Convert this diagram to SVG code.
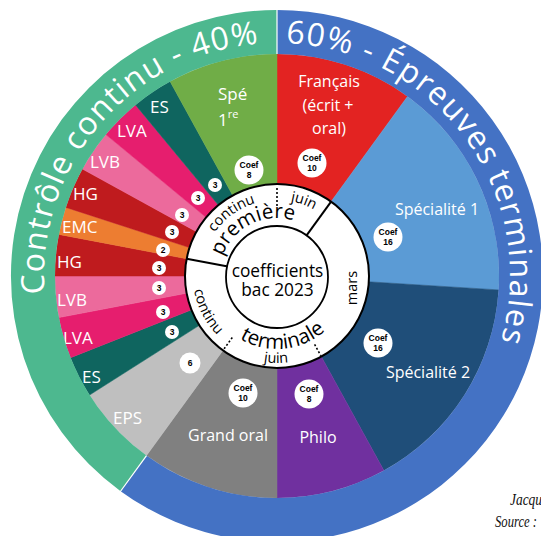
<svg xmlns="http://www.w3.org/2000/svg" width="541" height="536" viewBox="0 0 541 536">
<style>
.lbl{font-family:"Open Sans","Noto Sans",sans-serif;fill:#fff;font-size:17px}
.lbl16{font-family:"Open Sans","Noto Sans",sans-serif;fill:#fff;font-size:16px;text-anchor:middle}
.big{font-family:"Open Sans","Noto Sans",sans-serif;fill:#fff;font-size:32px;letter-spacing:1.2px}
.ring{font-family:"Open Sans","Noto Sans",sans-serif;fill:#000}
.bc{fill:#fff}
.bt{font-family:"Liberation Sans",Arial,sans-serif;font-weight:bold;font-size:8.5px;fill:#000;text-anchor:middle}
.foot{font-family:"Liberation Serif","Times New Roman",serif;font-style:italic;font-size:17px;fill:#111}
.div{stroke:#000;stroke-width:2;fill:none}
.dot{stroke:#000;stroke-width:1.6;stroke-dasharray:2 2;fill:none}
</style>
<defs>
<path id="cwBig" d="M277 509 A233 233 0 1 1 277 43 A233 233 0 1 1 277 509"/>
<path id="cw76" d="M277 352 A76 76 0 1 1 277 200 A76 76 0 1 1 277 352"/>
<path id="cw58" d="M277 334 A58 58 0 1 1 277 218 A58 58 0 1 1 277 334"/>
<path id="ccw84" d="M277 192 A84 84 0 1 0 277 360 A84 84 0 1 0 277 192"/>
<path id="ccw73" d="M277 203 A73 73 0 1 0 277 349 A73 73 0 1 0 277 203"/>
<path id="ccw87" d="M277 189 A87 87 0 1 0 277 363 A87 87 0 1 0 277 189"/>
</defs>

<g id="segments">
<g id="francais"><path d="M277 276 L277 54 A222 222 0 0 1 407.5 96.4 Z" fill="#E32322" stroke="#E32322" stroke-width="0.5"/>
<text class="lbl16" x="329" y="87">Français</text><text class="lbl16" x="328" y="111">(écrit +</text><text class="lbl16" x="329" y="134">oral)</text></g>
<g id="specialite1"><path d="M277 276 L407.5 96.4 A222 222 0 0 1 498.6 289.9 Z" fill="#5B9BD5" stroke="#5B9BD5" stroke-width="0.5"/>
<text class="lbl16" x="437" y="215">Spécialité 1</text></g>
<g id="specialite2"><path d="M277 276 L498.6 289.9 A222 222 0 0 1 383.9 470.5 Z" fill="#1F4E79" stroke="#1F4E79" stroke-width="0.5"/>
<text class="lbl16" x="428" y="378">Spécialité 2</text></g>
<g id="philo"><path d="M277 276 L383.9 470.5 A222 222 0 0 1 277 498 Z" fill="#70309F" stroke="#70309F" stroke-width="0.5"/>
<text class="lbl16" x="318" y="443">Philo</text></g>
<g id="grand-oral"><path d="M277 276 L277 498 A222 222 0 0 1 146.5 455.6 Z" fill="#808080" stroke="#808080" stroke-width="0.5"/>
<text class="lbl16" x="228" y="441">Grand oral</text></g>
<g id="eps"><path d="M277 276 L146.5 455.6 A222 222 0 0 1 89.6 395 Z" fill="#BFBFBF" stroke="#BFBFBF" stroke-width="0.5"/>
<text class="lbl" x="113" y="424">EPS</text></g>
<g id="es-t"><path d="M277 276 L89.6 395 A222 222 0 0 1 70.6 357.7 Z" fill="#0F655F" stroke="#0F655F" stroke-width="0.5"/>
<text class="lbl" x="82" y="383">ES</text></g>
<g id="lva-t"><path d="M277 276 L70.6 357.7 A222 222 0 0 1 58.9 317.6 Z" fill="#E61E6E" stroke="#E61E6E" stroke-width="0.5"/>
<text class="lbl" x="63" y="344">LVA</text></g>
<g id="lvb-t"><path d="M277 276 L58.9 317.6 A222 222 0 0 1 55 276 Z" fill="#EC6A9C" stroke="#EC6A9C" stroke-width="0.5"/>
<text class="lbl" x="57" y="306">LVB</text></g>
<g id="hg-t"><path d="M277 276 L55 276 A222 222 0 0 1 58.9 234.4 Z" fill="#BF1B1E" stroke="#BF1B1E" stroke-width="0.5"/>
<text class="lbl" x="57" y="268">HG</text></g>
<g id="emc"><path d="M277 276 L58.9 234.4 A222 222 0 0 1 65.9 207.4 Z" fill="#ED7D31" stroke="#ED7D31" stroke-width="0.5"/>
<text class="lbl" x="62" y="233">EMC</text></g>
<g id="hg-p"><path d="M277 276 L65.9 207.4 A222 222 0 0 1 82.5 169.1 Z" fill="#BF1B1E" stroke="#BF1B1E" stroke-width="0.5"/>
<text class="lbl" x="73" y="200">HG</text></g>
<g id="lvb-p"><path d="M277 276 L82.5 169.1 A222 222 0 0 1 105.9 134.5 Z" fill="#EC6A9C" stroke="#EC6A9C" stroke-width="0.5"/>
<text class="lbl" x="90" y="168">LVB</text></g>
<g id="lva-p"><path d="M277 276 L105.9 134.5 A222 222 0 0 1 135.5 104.9 Z" fill="#E61E6E" stroke="#E61E6E" stroke-width="0.5"/>
<text class="lbl" x="117" y="137">LVA</text></g>
<g id="es-p"><path d="M277 276 L135.5 104.9 A222 222 0 0 1 170.1 81.5 Z" fill="#0F655F" stroke="#0F655F" stroke-width="0.5"/>
<text class="lbl" x="150" y="113">ES</text></g>
<g id="spe1re"><path d="M277 276 L170.1 81.5 A222 222 0 0 1 277 54 Z" fill="#70AD47" stroke="#70AD47" stroke-width="0.5"/>
<text class="lbl" x="218" y="100">Spé</text><text class="lbl" x="218" y="126">1<tspan font-size="11" dy="-8">re</tspan></text></g>
</g>

<g id="outer-ring">
<g id="epreuves-terminales"><path d="M277 10 A266 266 0 1 1 120.6 491.2 L146.5 455.6 A222 222 0 1 0 277 54 Z" fill="#4472C4"/>
<text class="big" text-anchor="middle"><textPath href="#cwBig" startOffset="952.6">60% - Épreuves terminales</textPath></text></g>
<g id="controle-continu"><path d="M120.6 491.2 A266 266 0 0 1 277 10 L277 54 A222 222 0 0 0 146.5 455.6 Z" fill="#4DB88F"/>
<text class="big" text-anchor="middle"><textPath href="#cwBig" startOffset="531.1">Contrôle continu - 40%</textPath></text></g>
<line x1="277" y1="9" x2="277" y2="54" stroke="#fff" stroke-width="1.2"/>
<line x1="120" y1="492" x2="146.5" y2="455.6" stroke="#fff" stroke-width="1.2"/>
</g>

<g id="calendar">
<circle cx="277" cy="276" r="92" fill="#fff" stroke="#000" stroke-width="2"/>
<text class="ring" font-size="14.5" text-anchor="middle"><textPath href="#cw76" startOffset="191">continu</textPath></text>
<text class="ring" font-size="20.5" text-anchor="middle"><textPath href="#cw58" startOffset="155">première</textPath></text>
<text class="ring" font-size="14.5" text-anchor="middle"><textPath href="#cw76" startOffset="264.5">juin</textPath></text>
<text class="ring" font-size="14.5" text-anchor="middle" transform="translate(357 288) rotate(-90)">mars</text>
<text class="ring" font-size="14.5" text-anchor="middle"><textPath href="#ccw84" startOffset="171.5">continu</textPath></text>
<text class="ring" font-size="20.5" text-anchor="middle"><textPath href="#ccw73" startOffset="235.7">terminale</textPath></text>
<text class="ring" font-size="14.5" text-anchor="middle"><textPath href="#ccw87" startOffset="271.8">juin</textPath></text>
</g>

<g id="connectors">
<line class="div" x1="306.4" y1="235.6" x2="331.1" y2="201.6"/>
<line class="div" x1="227.9" y1="266.6" x2="186.6" y2="258.8"/>
<line class="dot" x1="277" y1="206" x2="277" y2="186"/>
<line class="dot" x1="232.3" y1="337.5" x2="223.9" y2="349.1"/>
<line class="dot" x1="314.6" y1="344.4" x2="320.8" y2="355.7"/>
</g>

<g id="center">
<circle cx="277" cy="277" r="51" fill="#fff" stroke="#000" stroke-width="1.8"/>
<text class="ring" font-size="17.3" text-anchor="middle" x="277.5" y="277">coefficients</text>
<text class="ring" font-size="17.3" text-anchor="middle" x="277.5" y="296">bac 2023</text>
</g>

<g id="badges">
<g id="b1"><circle class="bc" cx="215" cy="185" r="7"/><text class="bt" x="215" y="188">3</text></g>
<g id="b2"><circle class="bc" cx="198" cy="198" r="7"/><text class="bt" x="198" y="201">3</text></g>
<g id="b3"><circle class="bc" cx="182" cy="215" r="7"/><text class="bt" x="182" y="218">3</text></g>
<g id="b4"><circle class="bc" cx="172" cy="232" r="7"/><text class="bt" x="172" y="235">3</text></g>
<g id="b5"><circle class="bc" cx="163" cy="250" r="7"/><text class="bt" x="163" y="253">2</text></g>
<g id="b6"><circle class="bc" cx="159" cy="268" r="7"/><text class="bt" x="159" y="271">3</text></g>
<g id="b7"><circle class="bc" cx="159" cy="288" r="7"/><text class="bt" x="159" y="291">3</text></g>
<g id="b8"><circle class="bc" cx="163" cy="312" r="7"/><text class="bt" x="163" y="315">3</text></g>
<g id="b9"><circle class="bc" cx="172" cy="332" r="7"/><text class="bt" x="172" y="335">3</text></g>
<g id="b10"><circle class="bc" cx="190" cy="363" r="10.5"/><text class="bt" x="190" y="366">6</text></g>
<g id="c1"><circle class="bc" cx="249" cy="170" r="14.5"/><text class="bt" x="249" y="168">Coef</text><text class="bt" x="249" y="178">8</text></g>
<g id="c2"><circle class="bc" cx="312" cy="163" r="14.5"/><text class="bt" x="312" y="161">Coef</text><text class="bt" x="312" y="171">10</text></g>
<g id="c3"><circle class="bc" cx="388" cy="237" r="14.5"/><text class="bt" x="388" y="235">Coef</text><text class="bt" x="388" y="245">16</text></g>
<g id="c4"><circle class="bc" cx="378" cy="343" r="14.5"/><text class="bt" x="378" y="341">Coef</text><text class="bt" x="378" y="351">16</text></g>
<g id="c5"><circle class="bc" cx="309" cy="394" r="14.5"/><text class="bt" x="309" y="392">Coef</text><text class="bt" x="309" y="402">8</text></g>
<g id="c6"><circle class="bc" cx="243" cy="393" r="14.5"/><text class="bt" x="243" y="391">Coef</text><text class="bt" x="243" y="401">10</text></g>
</g>

<g id="footer">
<text class="foot" x="510" y="505" textLength="38" lengthAdjust="spacingAndGlyphs">Jacque</text>
<text class="foot" x="495" y="527" textLength="42" lengthAdjust="spacingAndGlyphs">Source :</text>
</g>
</svg>
